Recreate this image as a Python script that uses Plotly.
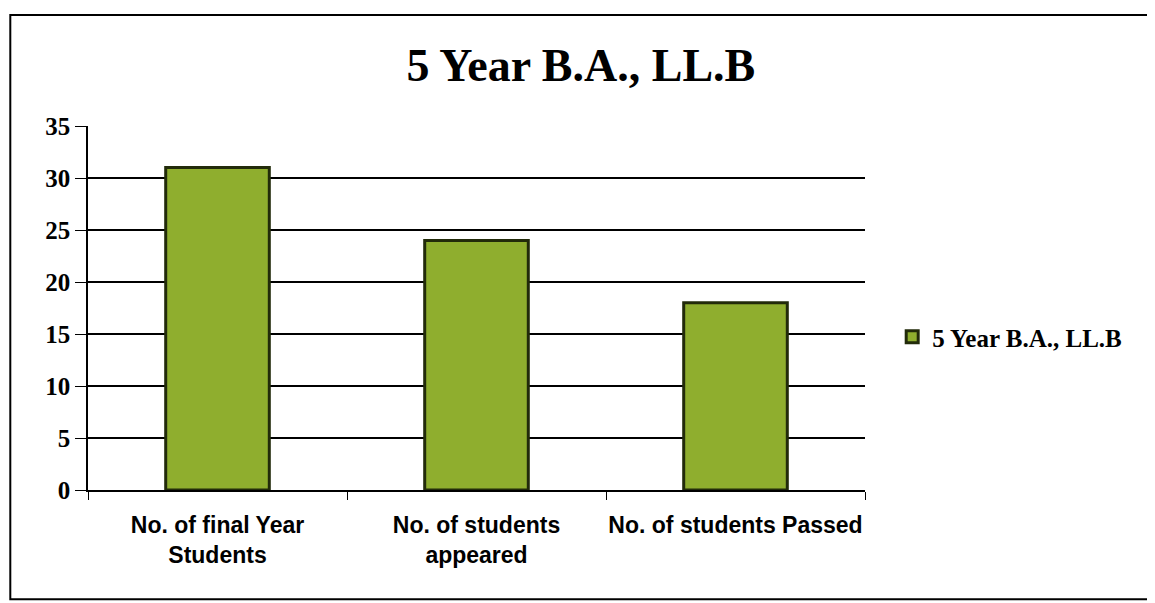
import plotly.graph_objs as go

categories = ["No. of final Year<br>Students", "No. of students<br>appeared", "No. of students Passed"]
values = [31, 24, 18]
series_name = "5 Year B.A., LL.B"
y_ticks = [0, 5, 10, 15, 20, 25, 30, 35]

fig = go.Figure(data=go.Bar(
    x=categories, y=values, name="<b>" + series_name + "</b>",
    marker=dict(color="#8fae2e", line=dict(color="#222b0a", width=3)),
    width=0.4, showlegend=True
))

fig.update_layout(
    width=1155, height=603,
    paper_bgcolor="white", plot_bgcolor="white",
    margin=dict(l=80, r=298, t=118, b=121, autoexpand=False),
    title=dict(text="<b>5 Year B.A., LL.B</b>", x=0.496, xanchor="center", y=0.905, yanchor="middle",
               font=dict(family="Liberation Serif", size=46, color="black")),
    legend=dict(x=1.035, y=0.42, xanchor="left", yanchor="middle",
                font=dict(family="Liberation Serif", size=25, color="black")),
    font=dict(family="Liberation Serif", color="black"),
)
fig.update_yaxes(range=[0, 35], tickvals=y_ticks, ticktext=["<b>%d</b>" % v for v in y_ticks],
                 showgrid=True, gridcolor="black", gridwidth=1.5,
                 showline=True, linecolor="black", linewidth=1.5,
                 ticks="outside", ticklen=11, tickcolor="black", automargin=False,
                 tickfont=dict(family="Liberation Serif", size=25, color="black"), zeroline=False)
fig.update_xaxes(showline=True, linecolor="black", linewidth=1.5,
                 ticks="outside", tickson="boundaries", ticklen=8, tickcolor="black",
                 ticktext=["<b>%s</b>" % c for c in categories], tickvals=categories,
                 ticklabelstandoff=14, tickangle=0, automargin=False,
                 tickfont=dict(family="Liberation Sans Narrow, Liberation Sans", size=23, color="black"))
fig.add_shape(type="rect", xref="paper", yref="paper", x0=-0.1, x1=1.37, y0=-0.3, y1=1.305,
              line=dict(color="black", width=2))

fig.write_html("out.html")
